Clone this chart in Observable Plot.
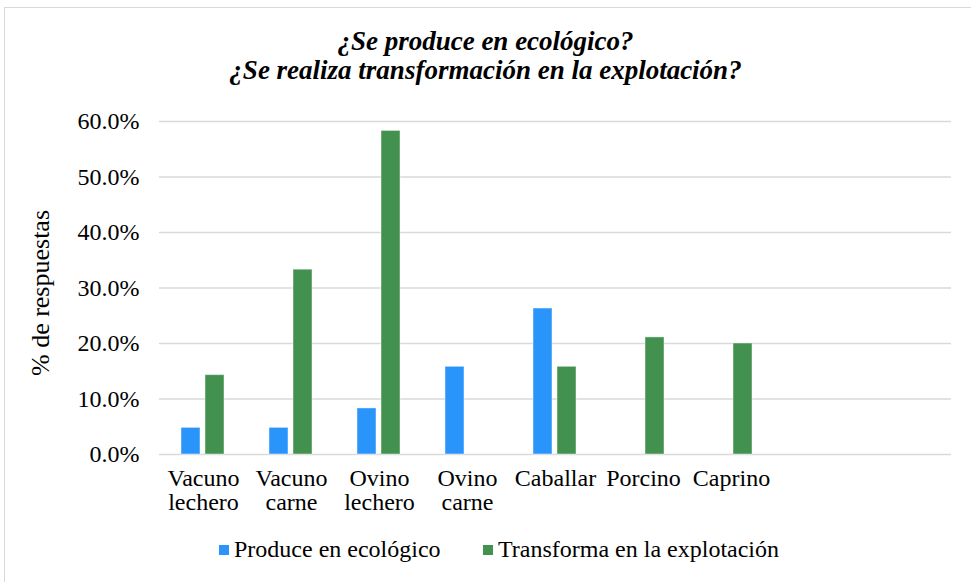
<!DOCTYPE html>
<html>
<head>
<meta charset="utf-8">
<script src="https://cdn.jsdelivr.net/npm/d3@7"></script>
<script src="https://cdn.jsdelivr.net/npm/@observablehq/plot@0.6"></script>
<style>
  body { margin: 0; background: #fff; }
  #wrap { position: relative; width: 971px; height: 582px; overflow: hidden; background: #fff; }
  #frame { position: absolute; left: 4px; top: 7px; width: 1000px; height: 620px; border: 1px solid #d9d9d9; box-sizing: border-box; }
  #chart { position: absolute; left: 0; top: 100px; }
  #overlay { position: absolute; left: 0; top: 0; pointer-events: none; }
</style>
</head>
<body>
<div id="wrap">
  <div id="frame"></div>
  <div id="chart"></div>
  <div id="overlay"></div>
</div>
<script>
// Categories (two trailing empty slots exist in the original category axis)
const categories = ["Vacuno\nlechero", "Vacuno\ncarne", "Ovino\nlechero", "Ovino\ncarne", "Caballar", "Porcino", "Caprino", "", " "];
const series = ["Produce en ecológico", "Transforma en la explotación"];
const colors = ["#2994fa", "#43914f"];
const produceValues = [4.8, 4.8, 8.3, 15.8, 26.3, null, null, null, null];
const transformaValues = [14.3, 33.3, 58.3, null, 15.8, 21.1, 20.0, null, null];
const yTicks = [0, 10, 20, 30, 40, 50, 60];
const titleLines = ["¿Se produce en ecológico?", "¿Se realiza transformación en la explotación?"];
const yTitle = "% de respuestas";

const data = [];
categories.forEach((c, i) => {
  data.push({cat: c, serie: series[0], value: produceValues[i]});
  data.push({cat: c, serie: series[1], value: transformaValues[i]});
});

const serifFamily = "'Liberation Serif', Tinos, serif";

const chart = Plot.plot({
  width: 971,
  height: 420,
  marginLeft: 157,
  marginRight: 18,
  marginTop: 21,
  marginBottom: 66,
  style: "font-family: " + serifFamily + "; font-size: 24px; color: #000; background: transparent;",
  fx: {domain: categories, paddingInner: 0, paddingOuter: 0, label: null},
  x: {domain: series, paddingInner: 0.2, paddingOuter: 0.869, axis: null},
  y: {domain: [0, 60], label: null},
  color: {domain: series, range: colors},
  marks: [
    Plot.gridY(yTicks, {stroke: "#d9d9d9", strokeOpacity: 1, strokeWidth: 1.6}),
    Plot.axisY(yTicks, {tickSize: 0, tickPadding: 20, tickFormat: d => d.toFixed(1) + "%", label: null, fill: "#000"}),
    Plot.axisFx({anchor: "bottom", tickSize: 0, tickPadding: 14, label: null, fill: "#000", lineHeight: 1.0}),
    Plot.barY(data, {fx: "cat", x: "serie", y: "value", fill: "serie", stroke: "#ffffff", strokeOpacity: 0.45, strokeWidth: 1})
  ]
});
document.getElementById("chart").appendChild(chart);

// Title, axis title and legend drawn as SVG text (same font handling as the chart)
const svg = d3.create("svg")
  .attr("width", 971).attr("height", 582)
  .attr("style", "font-family: " + serifFamily + "; color: #000;");

svg.selectAll("text.title").data(titleLines).join("text")
  .attr("class", "title")
  .attr("x", 485.5)
  .attr("y", (d, i) => 49.5 + i * 29.5)
  .attr("text-anchor", "middle")
  .attr("font-size", 27)
  .attr("font-weight", "bold")
  .attr("font-style", "italic")
  .attr("fill", "#000")
  .text(d => d);

svg.append("text")
  .attr("transform", "translate(40,293) rotate(-90)")
  .attr("text-anchor", "middle")
  .attr("dy", "0.35em")
  .attr("font-size", 26)
  .attr("fill", "#000")
  .text(yTitle);

const legendX = [219, 483];
const lg = svg.selectAll("g.legend").data(series).join("g")
  .attr("class", "legend")
  .attr("transform", (d, i) => `translate(${legendX[i]},545)`);
lg.append("rect").attr("width", 10).attr("height", 10).attr("fill", (d, i) => colors[i]);
lg.append("text")
  .attr("x", 15).attr("y", 12)
  .attr("font-size", 24)
  .attr("fill", "#000")
  .text(d => d);

document.getElementById("overlay").appendChild(svg.node());
</script>
</body>
</html>
